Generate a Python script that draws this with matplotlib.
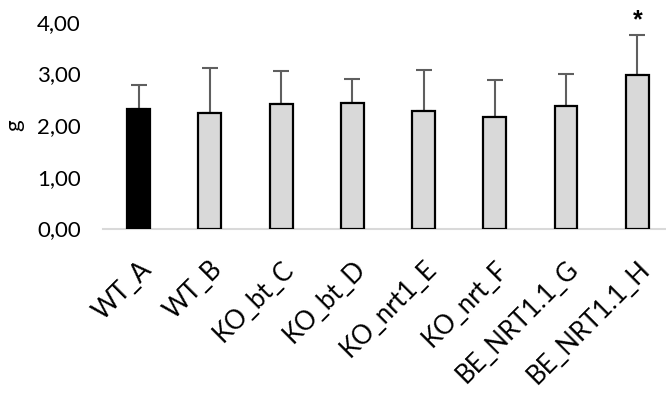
import matplotlib
matplotlib.use("Agg")
import matplotlib.pyplot as plt

categories = ["WT_A", "WT_B", "KO_bt_C", "KO_bt_D", "KO_nrt1_E", "KO_nrt_F", "BE_NRT1.1_G", "BE_NRT1.1_H"]
means = [2.32, 2.24, 2.40, 2.42, 2.27, 2.15, 2.37, 2.96]
errors = [0.45, 0.87, 0.65, 0.48, 0.79, 0.73, 0.61, 0.78]
colors = ["black", "#d9d9d9", "#d9d9d9", "#d9d9d9", "#d9d9d9", "#d9d9d9", "#d9d9d9", "#d9d9d9"]
yticks = [0, 1, 2, 3, 4]
ytick_labels = ["0,00", "1,00", "2,00", "3,00", "4,00"]

plt.rcParams['font.family'] = ['Lato', 'DejaVu Sans']

fig = plt.figure(figsize=(6.66, 4.01), dpi=100)
ax = fig.add_axes([0.1547, 0.430, 0.845, 0.516])

x = list(range(len(categories)))
ax.bar(x, means, width=0.32, color=colors, edgecolor="black", linewidth=1.6, zorder=3)
ax.errorbar(x, means, yerr=[[0] * len(errors), errors], fmt="none",
            ecolor="#5f5f5f", elinewidth=1.5, capsize=6, capthick=1.5, zorder=2)

# significance mark
ax.annotate("*", xy=(7, means[7] + errors[7]), xytext=(0, 2), textcoords="offset points",
            ha="center", va="bottom", fontsize=18, fontweight="bold",
            family=["Liberation Sans", "DejaVu Sans"])

ax.set_xlim(-0.5, 7.4)
ax.set_ylim(0, 4)
ax.set_yticks(yticks)
ax.set_yticklabels(ytick_labels, fontsize=16)
ax.set_xticks(x)
ax.set_xticklabels(categories, rotation=45, ha="right", rotation_mode="anchor", fontsize=18.5)
ax.tick_params(axis="both", length=0)
ax.tick_params(axis="y", pad=16)
ax.tick_params(axis="x", pad=20)
ax.set_ylabel("g", fontsize=16, labelpad=9)

for side in ["top", "right", "left"]:
    ax.spines[side].set_visible(False)
ax.spines["bottom"].set_color("#d9d9d9")
ax.spines["bottom"].set_linewidth(1.5)

fig.savefig("out.png", dpi=100)
